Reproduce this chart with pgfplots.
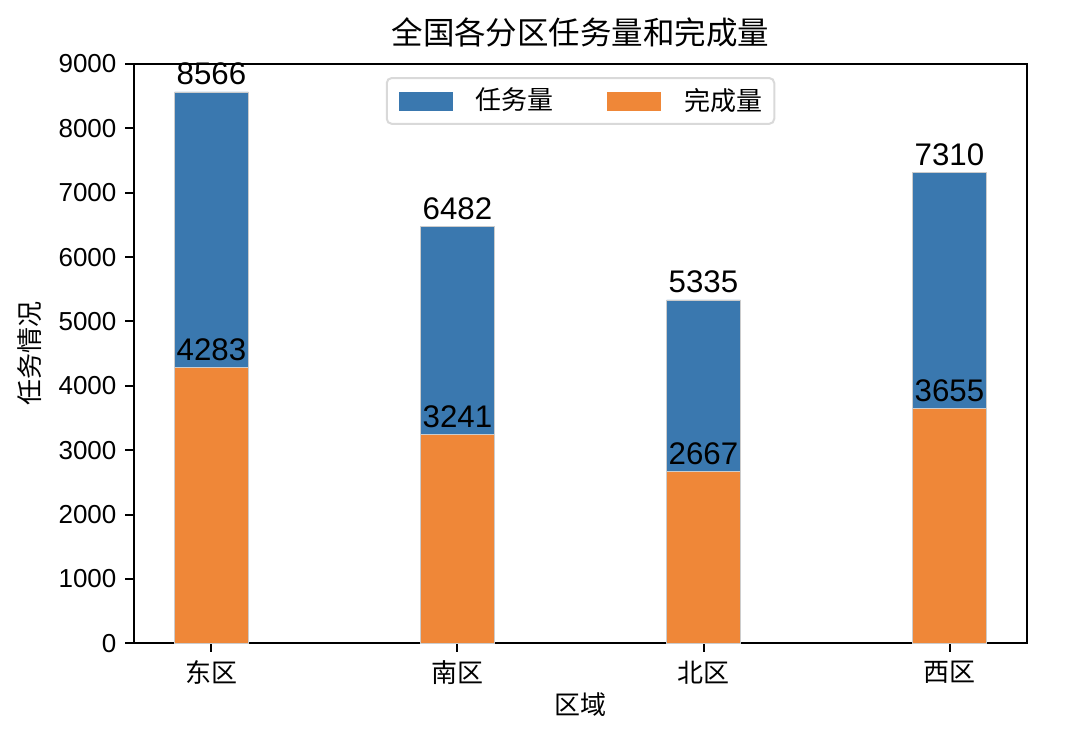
\documentclass[border=0pt]{standalone}
\usepackage{fontspec}
\setmainfont{Liberation Sans}
\newfontfamily\cjk{Noto Sans CJK SC}
\usepackage{pgfplots}
\pgfplotsset{compat=1.18}
\pgfplotsset{/pgf/number format/1000 sep={}, /pgf/number format/assume math mode=true}
\definecolor{barblue}{RGB}{58,120,175}
\definecolor{barorange}{RGB}{239,135,56}
\begin{document}
\begin{tikzpicture}
\path[use as bounding box] (0,0) rectangle (429.6pt,296pt);
\begin{axis}[
  at={(53.6pt,38.7pt)}, anchor=south west,
  scale only axis, width=357.2pt, height=231.7pt,
  xmin=-0.315, xmax=3.315, ymin=0, ymax=9000,
  xtick={0,1,2,3},
  xticklabels={{\cjk 东区},{\cjk 南区},{\cjk 北区},{\cjk 西区}},
  ytick={0,1000,...,9000},
  tick align=outside, tick pos=left, major tick length=3.5pt,
  every tick/.style={black, line width=0.8pt},
  axis line style={line width=0.8pt},
  ticklabel style={font=\fontsize{10.4}{12}\selectfont},
  title={\cjk 全国各分区任务量和完成量},
  title style={at={(0.5,1)}, anchor=base, yshift=2pt, inner sep=0pt, font=\fontsize{12.6}{15}\selectfont},
  xlabel={\cjk 区域},
  xlabel style={at={(0.5,0)}, anchor=base, yshift=-28.7pt, inner sep=0pt, font=\fontsize{10.4}{12}\selectfont},
  ylabel={\cjk 任务情况},
  ylabel style={at={(-0.1165,0.5)}, anchor=center, inner sep=0pt, font=\fontsize{10.4}{12}\selectfont},
  legend columns=2,
  legend style={at={(0.5,1)}, anchor=north, yshift=-5.2pt, draw=black!15, line width=0.8pt,
    rounded corners=2pt, inner xsep=4.8pt, inner ysep=4pt,
    nodes={inner sep=0pt},
    font=\cjk\fontsize{10.4}{12}\selectfont,
    /tikz/every odd column/.append style={column sep=9.2pt},
    /tikz/every even column/.append style={column sep=21.6pt}},
  nodes near coords style={anchor=base, yshift=2.8pt, inner sep=0pt, text=black, font=\fontsize{12.5}{15}\selectfont},
]
\addplot[ybar, bar width=0.3, bar shift=0pt, fill=barblue, draw=black!20, line width=0.3pt,
  nodes near coords,
  legend image code/.code={\fill[barblue, sharp corners] (0pt,-3.6pt) rectangle (21.2pt,3.6pt);}]
  coordinates {(0,8566) (1,6482) (2,5335) (3,7310)};
\addlegendentry{任务量}
\addplot[ybar, bar width=0.3, bar shift=0pt, fill=barorange, draw=black!20, line width=0.3pt,
  nodes near coords,
  legend image code/.code={\fill[barorange, sharp corners] (0pt,-3.6pt) rectangle (21.2pt,3.6pt);}]
  coordinates {(0,4283) (1,3241) (2,2667) (3,3655)};
\addlegendentry{完成量}
\end{axis}
\end{tikzpicture}
\end{document}
